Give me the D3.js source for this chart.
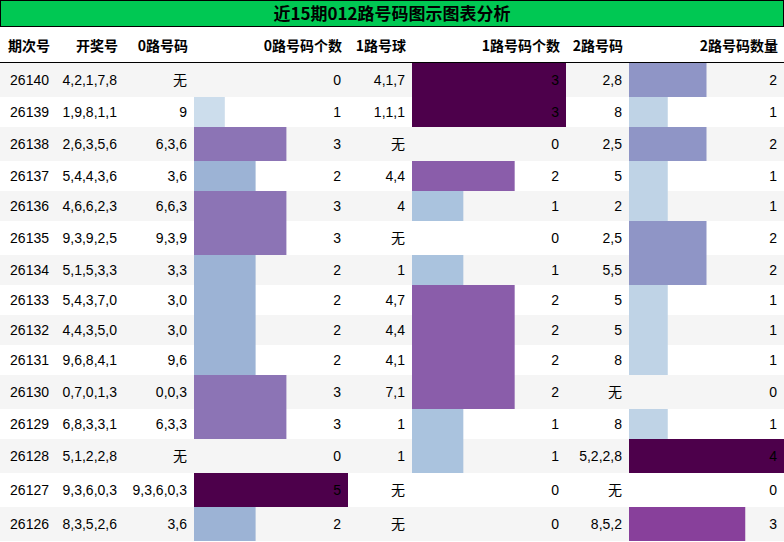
<!DOCTYPE html>
<html><head><meta charset="utf-8">
<script src="https://cdn.jsdelivr.net/npm/d3@7"></script>
<style>body{margin:0;background:#fff;font-family:"Noto Sans CJK SC","Liberation Sans",sans-serif;}</style>
</head><body><div id="chart"></div>
<script>
// data, top to bottom
const issues = ["26140","26139","26138","26137","26136","26135","26134","26133","26132","26131","26130","26129","26128","26127","26126"];
const draws = ["4,2,1,7,8","1,9,8,1,1","2,6,3,5,6","5,4,4,3,6","4,6,6,2,3","9,3,9,2,5","5,1,5,3,3","5,4,3,7,0","4,4,3,5,0","9,6,8,4,1","0,7,0,1,3","6,8,3,3,1","5,1,2,2,8","9,3,6,0,3","8,3,5,2,6"];
const road0 = ["无","9","6,3,6","3,6","6,6,3","9,3,9","3,3","3,0","3,0","9,6","0,0,3","6,3,3","无","9,3,6,0,3","3,6"];
const road0Count = [0,1,3,2,3,3,2,2,2,2,3,3,0,5,2];
const road1 = ["4,1,7","1,1,1","无","4,4","4","无","1","4,7","4,4","4,1","7,1","1","1","无","无"];
const road1Count = [3,3,0,2,1,0,1,2,2,2,2,1,1,0,0];
const road2 = ["2,8","8","2,5","5","2","2,5","5,5","5","5","8","无","8","5,2,2,8","无","8,5,2"];
const road2Count = [2,1,2,1,1,2,2,1,1,1,0,1,4,0,3];
const headers = ["期次号","开奖号","0路号码","0路号码个数","1路号球","1路号码个数","2路号码","2路号码数量"];
const title = "近15期012路号码图示图表分析";

const width = 784, height = 542;
const svg = d3.select("#chart").append("svg").attr("width", width).attr("height", height);

const colEdges = [0,56,124,194,348,412,566,629,784];
const cols = [issues, draws, road0, road0Count, road1, road1Count, road2, road2Count];
const barCols = {3: road0Count, 5: road1Count, 7: road2Count};

// row heights: rows containing "无" are taller
const rowH = issues.map((d,i) => [road0[i], road1[i], road2[i]].includes("无") ? 34 : 30);
const rowY = [];
let acc = 63;
rowH.forEach(h => { rowY.push(acc); acc += h; });

// title bar
svg.append("rect").attr("x",0.5).attr("y",0.5).attr("width",width-1).attr("height",26)
	.attr("fill","#00c853").attr("stroke","#000");
svg.append("text").attr("x",width/2).attr("y",20).attr("text-anchor","middle")
	.attr("font-size",17).attr("font-weight","bold").text(title);

// header
headers.forEach((h,j) => {
	svg.append("text").attr("x", colEdges[j+1]-6).attr("y",51).attr("text-anchor","end")
		.attr("font-size",14).attr("font-weight","bold").text(h);
});
svg.append("line").attr("x1",0).attr("x2",width).attr("y1",62.5).attr("y2",62.5).attr("stroke","#000");

// rows
const g = svg.selectAll("g.row").data(issues).enter().append("g").attr("class","row")
	.attr("transform",(d,i)=>`translate(0,${rowY[i]})`);
g.append("rect").attr("x",0).attr("width",width).attr("height",(d,i)=>rowH[i])
	.attr("fill",(d,i)=> i%2===0 ? "#f5f5f5" : "#fff");

// bars
Object.entries(barCols).forEach(([j, vals]) => {
	j = +j;
	const max = d3.max(vals);
	const x = d3.scaleLinear().domain([0,max]).range([colEdges[j], colEdges[j+1]]);
	const color = d3.scaleSequential(d3.interpolateBuPu).domain([0,max]);
	g.append("rect").attr("x",colEdges[j]).attr("height",(d,i)=>rowH[i])
		.attr("width",(d,i)=> x(vals[i]) - colEdges[j])
		.attr("fill",(d,i)=> vals[i] ? color(vals[i]) : "none");
});

// cell texts
cols.forEach((col,j) => {
	g.append("text").attr("x",colEdges[j+1]-7).attr("y",(d,i)=>rowH[i]/2+5)
		.attr("text-anchor","end").attr("font-size",14).attr("font-family","'Liberation Sans','Noto Sans CJK SC',sans-serif")
		.text((d,i)=>col[i]);
});
</script></body></html>
